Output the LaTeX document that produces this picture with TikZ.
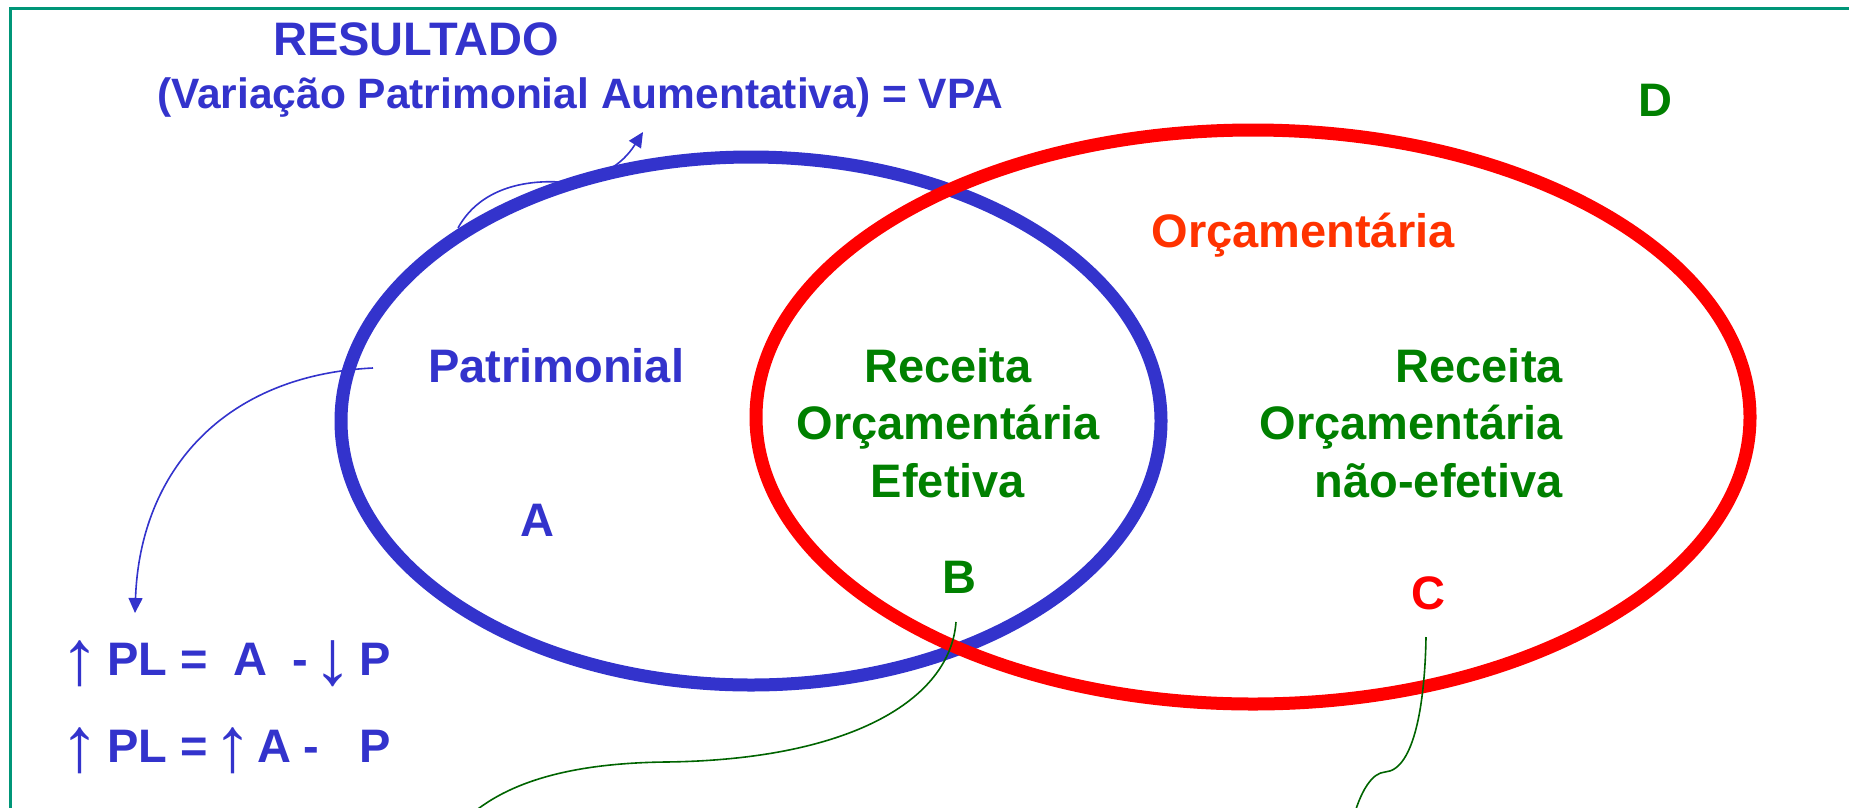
\documentclass[tikz,border=0pt]{standalone}
\usepackage{fontspec}
\setmainfont{Liberation Sans}
\usetikzlibrary{arrows.meta}
\definecolor{vblue}{RGB}{51,51,204}
\definecolor{vred}{RGB}{255,0,0}
\definecolor{vorange}{RGB}{255,51,0}
\definecolor{vgreen}{RGB}{0,128,0}
\definecolor{vline}{RGB}{0,100,0}
\definecolor{vframe}{RGB}{0,150,120}
\begin{document}
\begin{tikzpicture}[x=1pt,y=-1pt,
  txt/.style={inner sep=0pt, font=\fontsize{47}{57}\selectfont\bfseries},
  btxt/.style={txt, text=vblue},
  gtxt/.style={txt, text=vgreen},
  rtxt/.style={txt, text=vred},
  otxt/.style={txt, text=vorange},
  arrtxt/.style={inner sep=0pt, text=vblue, font=\fontsize{78}{90}\selectfont},
  bconn/.style={vblue, line width=1.6pt, -{Triangle[length=15pt,width=14pt]}},
  gconn/.style={vline, line width=1.6pt},
  ring/.style={line width=13pt}]
\useasboundingbox (0,0) rectangle (1849,807);

% frame
\draw[vframe, line width=3pt] (10,830) -- (10,8) -- (1870,8);

% ellipses
\draw[ring, vblue] (751,421) ellipse [x radius=410pt, y radius=264pt];
\draw[ring, vred] (1253,417) ellipse [x radius=497pt, y radius=287pt];

% titles
\node[btxt, anchor=base] (res) at (416,55) {RESULTADO};
\node[btxt, anchor=base, font=\fontsize{42.5}{50}\selectfont\bfseries] (vpa) at (580,108)
  {(Variação Patrimonial Aumentativa) = VPA};
\node[gtxt, anchor=base] (D) at (1655,116) {D};
\node[otxt, anchor=base] (orc) at (1303,247) {Orçamentária};

% left set
\node[btxt, anchor=base west] (pat) at (428,382) {Patrimonial};
\node[btxt, anchor=base] (A) at (537,536) {A};

% intersection
\node[gtxt, anchor=base] (re1) at (948,382) {Receita};
\node[gtxt, anchor=base] (re2) at (948,439) {Orçamentária};
\node[gtxt, anchor=base] (re3) at (948,497) {Efetiva};
\node[gtxt, anchor=base] (B) at (959,593) {B};

% right set
\node[gtxt, anchor=base east] (rn1) at (1563,382) {Receita};
\node[gtxt, anchor=base east] (rn2) at (1563,439) {Orçamentária};
\node[gtxt, anchor=base east] (rn3) at (1563,497) {não-efetiva};
\node[rtxt, anchor=base] (C) at (1428,609) {C};

% formulas row 1
\node[arrtxt] (f1u) at (80,664) {↑};
\node[btxt, anchor=base] (f1pl) at (137.5,675) {PL};
\node[btxt, anchor=base] (f1eq) at (194.5,675) {=};
\node[btxt, anchor=base] (f1a) at (250.5,675) {A};
\node[btxt, anchor=base] (f1m) at (300,675) {-};
\node[arrtxt] (f1d) at (333,664) {↓};
\node[btxt, anchor=base] (f1p) at (375,675) {P};
% formulas row 2
\node[arrtxt] (f2u) at (80,751) {↑};
\node[btxt, anchor=base] (f2pl) at (137.5,762) {PL};
\node[btxt, anchor=base] (f2eq) at (194.5,762) {=};
\node[arrtxt] (f2u2) at (233,751) {↑};
\node[btxt, anchor=base] (f2a) at (274,762) {A};
\node[btxt, anchor=base] (f2m) at (311.5,762) {-};
\node[btxt, anchor=base] (f2p) at (375,762) {P};

% connector ends
\coordinate (patS) at (373,368);
\coordinate (plT) at (135,613);
\coordinate (topS) at (458,228);
\coordinate (topM) at (560,182);
\coordinate (vpaT) at (643,132);
\coordinate (bS) at (956,622);
\coordinate (bM) at (665,762);
\coordinate (bE) at (474,812);
\coordinate (cS) at (1426,637);
\coordinate (cM) at (1385,772);
\coordinate (cE) at (1355,812);

% blue arrows
\draw[bconn] (patS) .. controls (225,375) and (140,470) .. (plT);
\draw[vblue, line width=1.6pt] (topS) .. controls (480,188) and (525,180) .. (topM);
\draw[bconn] (topM) .. controls (600,180) and (622,165) .. (vpaT);

% green lines
\draw[gconn] (bS) .. controls (950,700) and (850,760) .. (bM)
  .. controls (590,763) and (520,775) .. (bE);
\draw[gconn] (cS) .. controls (1425,700) and (1415,770) .. (cM)
  .. controls (1372,773) and (1362,790) .. (cE);
\end{tikzpicture}
\end{document}
